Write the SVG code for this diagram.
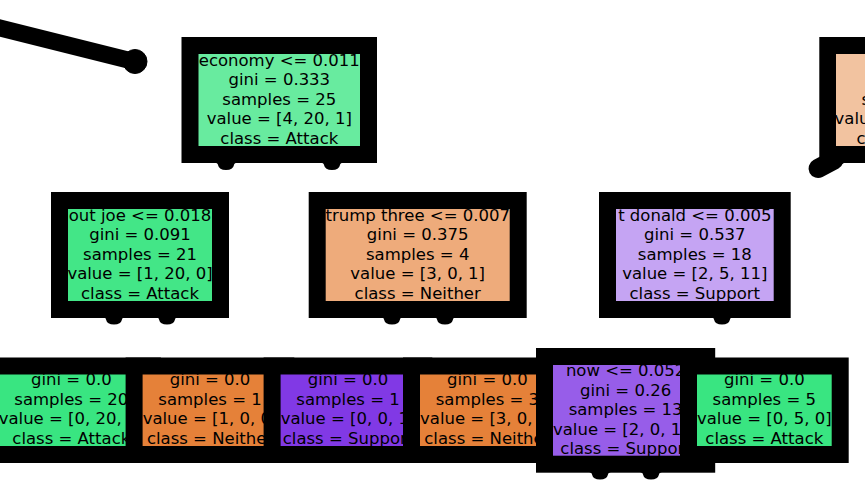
<svg xmlns="http://www.w3.org/2000/svg" width="865" height="486" viewBox="0 0 865 486">
<style>
.b{fill:#000}
.t{font-family:"DejaVu Sans","Liberation Sans",sans-serif;font-size:16.5px;text-anchor:middle;fill:#000}
.s{text-anchor:start}
.c{fill:#000;stroke:#000}
</style>
<defs>
<path id="bump" d="M-13,-1 Q-8,0 -8,2 Q-7,7 0,7 Q7,7 8,2 Q8,0 13,-1 Z" fill="#000"/>
</defs>
<rect width="865" height="486" fill="#fff"/>
<g id="connectors">
<line class="c" x1="-10" y1="25.5" x2="132" y2="61" stroke-width="17" stroke-linecap="round"/>
<circle class="c" cx="135" cy="61.5" r="12" stroke="none"/>
<use href="#bump" x="226" y="163"/>
<use href="#bump" x="332" y="163"/>
<use href="#bump" x="114" y="317.5"/>
<use href="#bump" x="167" y="317.5"/>
<use href="#bump" x="392" y="317.5"/>
<use href="#bump" x="445" y="317.5"/>
<use href="#bump" x="722" y="317.5"/>
<use href="#bump" x="600" y="472.5"/>
<use href="#bump" x="651" y="472.5"/>
<line class="c" x1="818" y1="168.5" x2="834" y2="160" stroke-width="19" stroke-linecap="round"/>
<path d="M830,162 Q838,163 844,163 L830,171 Z" fill="#000"/>
</g>
<g id="n_economy">
<rect class="b" x="181.5" y="37" width="195.5" height="126"/>
<rect x="198.5" y="54" width="161.5" height="92" fill="#68eb9f"/>
<text class="t" x="279.3" y="65.5">economy &lt;= 0.011</text>
<text class="t" x="279.3" y="85">gini = 0.333</text>
<text class="t" x="279.3" y="104.5">samples = 25</text>
<text class="t" x="279.3" y="124">value = [4, 20, 1]</text>
<text class="t" x="279.3" y="143.5">class = Attack</text>
</g>
<g id="n_outjoe">
<rect class="b" x="51" y="192" width="178" height="126"/>
<rect x="68" y="209" width="144" height="92" fill="#43e687"/>
<text class="t" x="140" y="220.5">out joe &lt;= 0.018</text>
<text class="t" x="140" y="240">gini = 0.091</text>
<text class="t" x="140" y="259.5">samples = 21</text>
<text class="t" x="140" y="279">value = [1, 20, 0]</text>
<text class="t" x="140" y="298.5">class = Attack</text>
</g>
<g id="leaf1">
<rect class="b" x="-18.3" y="357.5" width="179.2" height="105.5"/>
<rect x="-1.3" y="374.5" width="145.2" height="71.5" fill="#39e581"/>
<text class="t" x="71.3" y="385">gini = 0.0</text>
<text class="t" x="71.3" y="404.5">samples = 20</text>
<text class="t" x="71.3" y="424">value = [0, 20, 0]</text>
<text class="t" x="71.3" y="443.5">class = Attack</text>
</g>
<g id="leaf2">
<rect class="b" x="125.6" y="357.5" width="168.7" height="105.5"/>
<rect x="142.6" y="374.5" width="134.7" height="71.5" fill="#e58139"/>
<text class="t" x="210" y="385">gini = 0.0</text>
<text class="t" x="210" y="404.5">samples = 1</text>
<text class="t" x="210" y="424">value = [1, 0, 0]</text>
<text class="t" x="210" y="443.5">class = Neither</text>
</g>
<g id="n_trump">
<rect class="b" x="308.7" y="192" width="218" height="126"/>
<rect x="325.7" y="209" width="184" height="92" fill="#eeab7b"/>
<text class="t" x="417.7" y="220.5">trump three &lt;= 0.007</text>
<text class="t" x="417.7" y="240">gini = 0.375</text>
<text class="t" x="417.7" y="259.5">samples = 4</text>
<text class="t" x="417.7" y="279">value = [3, 0, 1]</text>
<text class="t" x="417.7" y="298.5">class = Neither</text>
</g>
<g id="leaf3">
<rect class="b" x="263.6" y="357.5" width="168.7" height="105.5"/>
<rect x="280.6" y="374.5" width="134.7" height="71.5" fill="#8139e5"/>
<text class="t" x="348" y="385">gini = 0.0</text>
<text class="t" x="348" y="404.5">samples = 1</text>
<text class="t" x="348" y="424">value = [0, 0, 1]</text>
<text class="t" x="348" y="443.5">class = Support</text>
</g>
<g id="leaf4">
<rect class="b" x="403" y="357.5" width="168.7" height="105.5"/>
<rect x="420" y="374.5" width="134.7" height="71.5" fill="#e58139"/>
<text class="t" x="487.4" y="385">gini = 0.0</text>
<text class="t" x="487.4" y="404.5">samples = 3</text>
<text class="t" x="487.4" y="424">value = [3, 0, 0]</text>
<text class="t" x="487.4" y="443.5">class = Neither</text>
</g>
<g id="n_topright">
<rect class="b" x="819.3" y="37" width="60" height="126"/>
<rect x="836" y="54" width="40" height="92" fill="#f2c3a0"/>
<text class="t s" x="861.5" y="104.5">s</text>
<text class="t s" x="834.5" y="124">valu</text>
<text class="t s" x="856.5" y="143.5">c</text>
</g>
<g id="n_donald">
<rect class="b" x="599" y="192" width="191.7" height="126"/>
<rect x="616" y="209" width="157.7" height="92" fill="#c5a4f3"/>
<text class="t" x="694.8" y="220.5">t donald &lt;= 0.005</text>
<text class="t" x="694.8" y="240">gini = 0.537</text>
<text class="t" x="694.8" y="259.5">samples = 18</text>
<text class="t" x="694.8" y="279">value = [2, 5, 11]</text>
<text class="t" x="694.8" y="298.5">class = Support</text>
</g>
<g id="n_now">
<rect class="b" x="536" y="348" width="179.2" height="124.7"/>
<rect x="553" y="365" width="145.2" height="90.7" fill="#975de9"/>
<text class="t" x="625.6" y="376">now &lt;= 0.052</text>
<text class="t" x="625.6" y="395.5">gini = 0.26</text>
<text class="t" x="625.6" y="415">samples = 13</text>
<text class="t" x="625.6" y="434.5">value = [2, 0, 11]</text>
<text class="t" x="625.6" y="454">class = Support</text>
</g>
<g id="leaf6">
<rect class="b" x="680" y="357.5" width="168.7" height="105.5"/>
<rect x="697" y="374.5" width="134.7" height="71.5" fill="#39e581"/>
<text class="t" x="764.3" y="385">gini = 0.0</text>
<text class="t" x="764.3" y="404.5">samples = 5</text>
<text class="t" x="764.3" y="424">value = [0, 5, 0]</text>
<text class="t" x="764.3" y="443.5">class = Attack</text>
</g>
</svg>
